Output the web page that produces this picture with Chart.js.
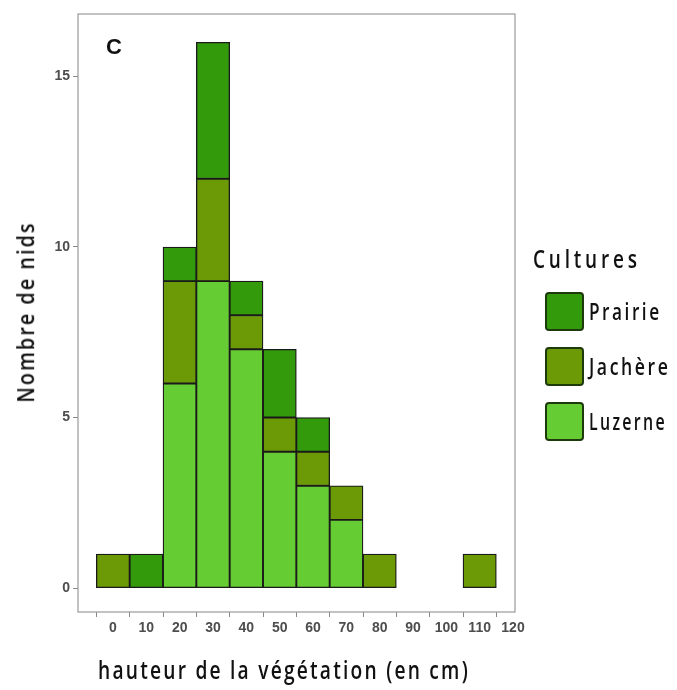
<!DOCTYPE html>
<html>
<head>
<meta charset="utf-8">
<script src="https://cdn.jsdelivr.net/npm/chart.js@4.4.1/dist/chart.umd.min.js"></script>
<style>
  html, body { margin: 0; padding: 0; background: #fff; }
  #wrap { position: relative; width: 677px; height: 690px; overflow: hidden; }
  canvas { position: absolute; left: 0; top: 0; }
  .t { font-family: "Open Sans", sans-serif; font-weight: 600; color: #111; position: absolute; white-space: nowrap; line-height: 1; left: 0; top: 0; }
  #panel { position: absolute; left: 106px; top: 36px; font: bold 22px/1 "Liberation Sans", Arial, sans-serif; color: #111; }
  .sw { position: absolute; left: 545px; width: 35px; height: 35px; border: 2px solid #1d3a0c; border-radius: 4px; }
</style>
</head>
<body>
<div id="wrap">
  <canvas id="c" width="677" height="690"></canvas>
  <div id="panel">C</div>
  <div id="ytitle" class="t">Nombre de nids</div>
  <div id="xtitle" class="t">hauteur de la végétation (en cm)</div>
  <div id="legtitle" class="t">Cultures</div>
  <div class="sw" style="top:292px;background:#339a0c"></div>
  <div id="l1" class="t">Prairie</div>
  <div class="sw" style="top:347px;background:#6b9a06"></div>
  <div id="l2" class="t">Jachère</div>
  <div class="sw" style="top:402px;background:#66cc33"></div>
  <div id="l3" class="t">Luzerne</div>
</div>
<script>
// Bin centres (vegetation height, cm) and nest counts per crop type
const binCentres = [0, 10, 20, 30, 40, 50, 60, 70, 80, 90, 100, 110];
const luzerne = [null, null, 6, 9, 7, 4, 3, 2, null, null, null, null];
const jachere = [1, null, 3, 3, 1, 1, 1, 1, 1, null, null, 1];
const prairie = [null, 1, 1, 4, 1, 2, 1, null, null, null, null, null];
const xTicks = [0, 10, 20, 30, 40, 50, 60, 70, 80, 90, 100, 110, 120];
const yTicks = [0, 5, 10, 15];

const colors = { prairie: '#339a0c', jachere: '#6b9a06', luzerne: '#66cc33' };

function points(vals) {
  return binCentres.map((x, i) => ({ x: x, y: vals[i] }));
}

// grey frame around the plotting panel
const frame = {
  id: 'frame',
  afterDraw(chart) {
    const { ctx, chartArea: a } = chart;
    ctx.save();
    ctx.strokeStyle = '#9a9a9a';
    ctx.lineWidth = 1.2;
    ctx.strokeRect(a.left, a.top, a.right - a.left, a.bottom - a.top);
    ctx.restore();
  }
};

const barStyle = { borderColor: '#1a1a1a', borderWidth: 1.3, borderSkipped: false, barPercentage: 1, categoryPercentage: 1 };
const tickFont = { family: 'Liberation Sans', weight: 'bold', size: 14 };

new Chart(document.getElementById('c'), {
  type: 'bar',
  data: {
    datasets: [
      Object.assign({ label: 'Luzerne', data: points(luzerne), backgroundColor: colors.luzerne }, barStyle),
      Object.assign({ label: 'Jachère', data: points(jachere), backgroundColor: colors.jachere }, barStyle),
      Object.assign({ label: 'Prairie', data: points(prairie), backgroundColor: colors.prairie }, barStyle)
    ]
  },
  options: {
    responsive: false,
    animation: false,
    devicePixelRatio: 1,
    layout: { padding: { left: 0, top: 14, right: 162, bottom: 0 } },
    plugins: { legend: { display: false }, tooltip: { enabled: false } },
    scales: {
      x: {
        type: 'linear',
        stacked: true,
        offset: false,
        min: -10.5,
        max: 120.6,
        afterFit(s) { s.height = 78; },
        afterBuildTicks(s) { s.ticks = xTicks.map(v => ({ value: v })); },
        border: { display: false },
        grid: { drawOnChartArea: false, drawTicks: true, tickLength: 5, color: '#888', lineWidth: 1 },
        ticks: { padding: 3, maxRotation: 0, autoSkip: false, color: '#4d4d4d', font: tickFont }
      },
      y: {
        stacked: true,
        min: -0.7,
        max: 16.83,
        afterFit(s) { s.width = 78; },
        afterBuildTicks(s) { s.ticks = yTicks.map(v => ({ value: v })); },
        border: { display: false },
        grid: { drawOnChartArea: false, drawTicks: true, tickLength: 5, color: '#888', lineWidth: 1 },
        ticks: { padding: 3, color: '#4d4d4d', font: tickFont }
      }
    }
  },
  plugins: [frame]
});

// Narrow-set text: size, letter spacing, target width, anchor and baseline
const ASC = 0.888; // baseline offset for Open Sans at line-height 1
function place(id, size, spacing, width, opts) {
  const el = document.getElementById(id);
  el.style.fontSize = size + 'px';
  el.style.letterSpacing = spacing + 'px';
  const natural = el.offsetWidth - spacing;
  const s = width / natural;
  if (opts.rotate) {
    el.style.left = (opts.cx - el.offsetWidth / 2) + 'px';
    el.style.top = (opts.cy - size / 2) + 'px';
    el.style.transformOrigin = '50% 50%';
    el.style.transform = 'rotate(-90deg) scaleX(' + s + ')';
  } else {
    const left = opts.cx !== undefined ? opts.cx - width / 2 : opts.x;
    el.style.left = left + 'px';
    el.style.top = (opts.base - ASC * size) + 'px';
    el.style.transformOrigin = '0 0';
    el.style.transform = 'scaleX(' + s + ')';
  }
}
function layoutText() {
  place('xtitle', 26, 3, 370, { cx: 283, base: 679 });
  place('ytitle', 24, 2.5, 179, { rotate: true, cx: 25, cy: 312 });
  place('legtitle', 25, 5, 104, { x: 533, base: 268 });
  place('l1', 24, 3.5, 70, { x: 589, base: 320 });
  place('l2', 24, 3.5, 79, { x: 589, base: 375 });
  place('l3', 24, 3.5, 76, { x: 589, base: 430 });
}
layoutText();
if (document.fonts && document.fonts.ready) document.fonts.ready.then(layoutText);
</script>
</body>
</html>
